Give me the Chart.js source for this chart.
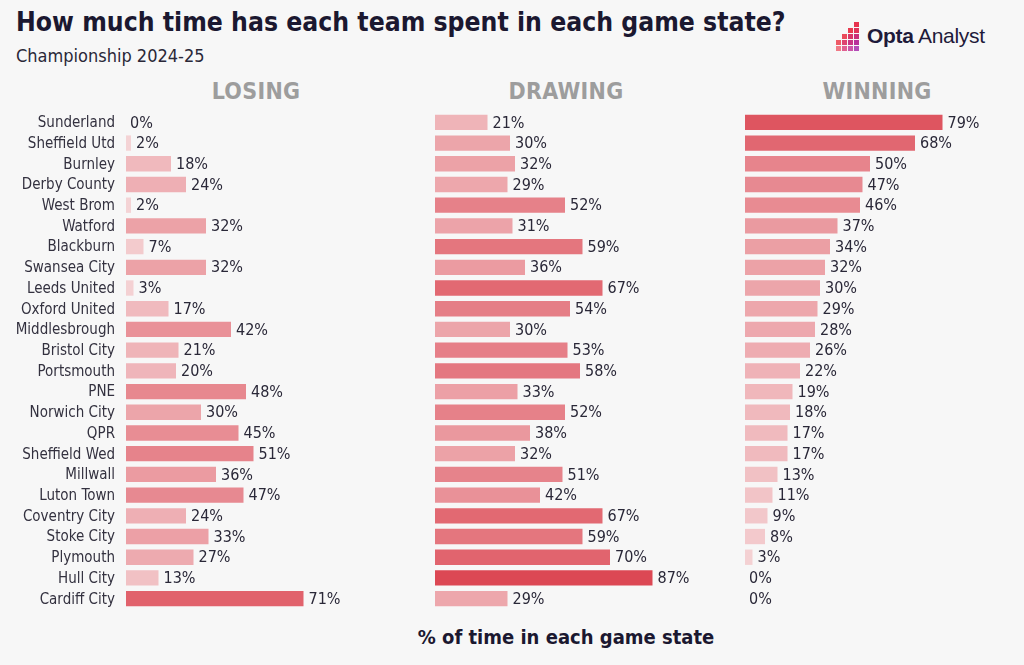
<!DOCTYPE html>
<html>
<head>
<meta charset="utf-8">
<script src="https://cdn.jsdelivr.net/npm/chart.js@4/dist/chart.umd.min.js"></script>
<style>
  html,body{margin:0;padding:0;background:#f7f7f7;}
  #wrap{position:relative;width:1024px;height:665px;background:#f7f7f7;overflow:hidden;
    font-family:"DejaVu Sans Condensed","Liberation Sans Narrow","DejaVu Sans",sans-serif;color:#1e1a2e;}
  .abs{position:absolute;white-space:nowrap;}
  #title{left:16px;top:7px;font-size:26.3px;font-weight:bold;color:#1b1830;}
  #sub{left:16px;top:45px;font-size:18px;color:#2a2838;}
  .hdr{top:78px;font-size:23px;font-weight:bold;color:#9d9d9d;transform:translateX(-50%);letter-spacing:0.3px;}
  #xt{left:566px;top:625px;font-size:20px;font-weight:bold;color:#1b1830;transform:translateX(-50%);}
  canvas{position:absolute;}
  #logo{left:836px;top:22px;height:30px;}
  .sq{position:absolute;width:5px;height:5px;}
  #ltext{position:absolute;left:31px;top:2px;font-size:21px;color:#1e1a3a;font-family:"Liberation Sans","DejaVu Sans",sans-serif;letter-spacing:-0.3px;}
</style>
</head>
<body>
<div id="wrap">
  <div id="title" class="abs">How much time has each team spent in each game state?</div>
  <div id="sub" class="abs">Championship 2024-25</div>
  <div class="abs hdr" style="left:256px">LOSING</div>
  <div class="abs hdr" style="left:566px">DRAWING</div>
  <div class="abs hdr" style="left:877px">WINNING</div>
  <div id="logo" class="abs"></div>
  <div id="xt" class="abs">% of time in each game state</div>
  <canvas id="c1" width="420" height="497" style="left:0px;top:112px;width:420px;height:497px"></canvas>
  <canvas id="c2" width="300" height="497" style="left:435px;top:112px;width:300px;height:497px"></canvas>
  <canvas id="c3" width="279" height="497" style="left:745px;top:112px;width:279px;height:497px"></canvas>
</div>
<script>
const teams = ["Sunderland","Sheffield Utd","Burnley","Derby County","West Brom","Watford","Blackburn","Swansea City","Leeds United","Oxford United","Middlesbrough","Bristol City","Portsmouth","PNE","Norwich City","QPR","Sheffield Wed","Millwall","Luton Town","Coventry City","Stoke City","Plymouth","Hull City","Cardiff City"];
const losing  = [0,2,18,24,2,32,7,32,3,17,42,21,20,48,30,45,51,36,47,24,33,27,13,71];
const drawing = [21,30,32,29,52,31,59,36,67,54,30,53,58,33,52,38,32,51,42,67,59,70,87,29];
const winning = [79,68,50,47,46,37,34,32,30,29,28,26,22,19,18,17,17,13,11,9,8,3,0,0];

// logo squares
(function(){
  const logo=document.getElementById('logo');
  const cells=[[3,0,'#e8334f'],[3,1,'#e0335a'],[2,1,'#e83b50'],[2,2,'#d93568'],[3,2,'#c9307a'],[1,2,'#ea4a5a'],[0,3,'#ee5a66'],[1,3,'#de4470'],[2,3,'#c93584'],[3,3,'#b8309a'],[0,4,'#f07a86'],[1,4,'#e06090'],[2,4,'#cc55a8'],[3,4,'#b44cb8']];
  cells.forEach(c=>{const d=document.createElement('div');d.className='sq';d.style.left=(c[0]*6)+'px';d.style.top=(c[1]*6)+'px';d.style.background=c[2];logo.appendChild(d);});
  const t=document.createElement('div');t.id='ltext';t.innerHTML='<b>Opta</b> Analyst';logo.appendChild(t);
})();

function barColor(v){
  const t=Math.min(v/87,1);
  const a=[245,214,216], b=[220,72,84];
  const c=a.map((x,i)=>Math.round(x+(b[i]-x)*t));
  return `rgb(${c[0]},${c[1]},${c[2]})`;
}
const FONT='"DejaVu Sans Condensed","Liberation Sans Narrow","DejaVu Sans",sans-serif';
const labelsPlugin={
  id:'labelsPlugin',
  afterDatasetsDraw(chart,args,opts){
    const ctx=chart.ctx;
    const ds=chart.data.datasets[0];
    const meta=chart.getDatasetMeta(0);
    ctx.save();
    ctx.textBaseline='middle';
    meta.data.forEach((el,i)=>{
      ctx.font='16px '+FONT;
      ctx.fillStyle='#2a2838';
      ctx.textAlign='left';
      ctx.fillText(ds.data[i]+'%', el.x+(ds.data[i]>0?5:4), el.y+1);
      if(opts.teams){
        ctx.font='15px '+FONT;
        ctx.fillStyle='#33313f';
        ctx.textAlign='right';
        ctx.fillText(chart.data.labels[i], chart.chartArea.left-11, el.y+1);
      }
    });
    ctx.restore();
  }
};
// each panel: plot area 250px wide for 0-100%
function make(id, values, padLeft, padRight, showTeams){
  return new Chart(document.getElementById(id),{
    type:'bar',
    data:{labels:teams,datasets:[{data:values,backgroundColor:values.map(barColor),borderWidth:0,barPercentage:0.74,categoryPercentage:1}]},
    options:{
      indexAxis:'y',responsive:false,animation:false,
      layout:{padding:{left:padLeft,right:padRight,top:0,bottom:0}},
      plugins:{legend:{display:false},tooltip:{enabled:false},labelsPlugin:{teams:showTeams}},
      scales:{
        x:{display:false,min:0,max:100},
        y:{display:false}
      }
    },
    plugins:[labelsPlugin]
  });
}
Chart.defaults.font.family=FONT;
make('c1',losing,126,44,true);
make('c2',drawing,0,50,false);
make('c3',winning,0,29,false);
</script>
</body>
</html>
